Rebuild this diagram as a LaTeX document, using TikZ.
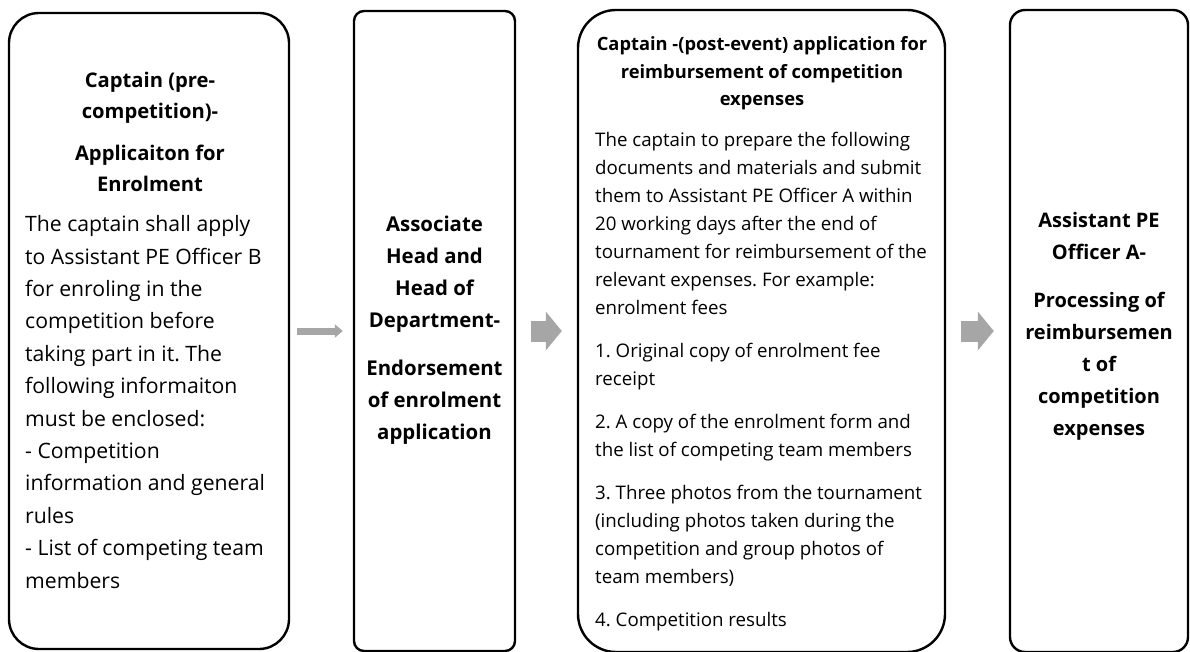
\documentclass[tikz,border=0pt]{standalone}
\usepackage{fontspec}
\setmainfont{Open Sans}
\usetikzlibrary{positioning,arrows.meta}
\definecolor{arrowgrey}{RGB}{166,166,166}
\frenchspacing

\begin{document}
\begin{tikzpicture}[x=1pt,y=-1pt,
    stage/.style={draw=black,line width=2.4pt,inner sep=0pt},
    head/.style={align=center,inner sep=0pt},
    body/.style={align=left,inner sep=0pt,anchor=west},
    flow/.style={draw=arrowgrey,line width=21pt,-{Triangle[width=38pt,length=16pt]}},
    thinflow/.style={draw=arrowgrey,line width=7pt,-{Triangle[width=13pt,length=8pt]}}]
\useasboundingbox (0,0) rectangle (1190,652);

% the four stages
\node[stage,rounded corners=30pt,minimum width=280pt,minimum height=636pt] (pre) at (149,331) {};
\node[stage,rounded corners=10pt,minimum width=161pt,minimum height=640pt] (endorse) at (434.5,331) {};
\node[stage,rounded corners=38pt,minimum width=367pt,minimum height=642pt] (post) at (761.5,331) {};
\node[stage,rounded corners=15pt,minimum width=178pt,minimum height=642pt] (process) at (1099,331) {};

% captain, before the competition
\node[head,font={\bfseries\fontsize{20.2}{31}\selectfont}] (preTitle) at (150,132)
    {Captain (pre-\\competition)-\\[11pt]Applicaiton for\\Enrolment};
\node[body,font={\fontsize{21.2}{32.4}\selectfont}] (preText) at (25,402)
    {The captain shall apply\\to Assistant PE Officer B\\for enroling in the\\competition before\\taking part in it. The\\following informaiton\\must be enclosed:\\- Competition\\information and general\\rules\\- List of competing team\\members};

% heads
\node[head,font={\bfseries\fontsize{20.4}{32}\selectfont}] (endorseTitle) at (434.5,330)
    {Associate\\Head and\\Head of\\Department-\\[16pt]Endorsement\\of enrolment\\application};

% captain, after the event
\node[head,font={\bfseries\fontsize{18.3}{27.5}\selectfont}] (postTitle) at (762,73.5)
    {Captain -(post-event) application for\\reimbursement of competition\\expenses};
\node[body,font={\fontsize{18.7}{28}\selectfont}] (postText) at (595,381.5)
    {The captain to prepare the following\\documents and materials and submit\\them to Assistant PE Officer A within\\20 working days after the end of\\tournament for reimbursement of the\\relevant expenses. For example:\\enrolment fees\\[15pt]1. Original copy of enrolment fee\\receipt\\[15pt]2. A copy of the enrolment form and\\the list of competing team members\\[15pt]3. Three photos from the tournament\\(including photos taken during the\\competition and group photos of\\team members)\\[15pt]4. Competition results};

% officer A
\node[head,font={\bfseries\fontsize{20}{32}\selectfont}] (processTitle) at (1099,326)
    {Assistant PE\\Officer A-\\[16pt]Processing of\\reimbursemen\\t of\\competition\\expenses};

\draw[thinflow] ([xshift=7pt]pre.east) -- ([xshift=-10pt]endorse.west);
\draw[flow] ([xshift=15pt]endorse.east) -- ([xshift=-15pt]post.west);
\draw[flow] ([xshift=15pt]post.east) -- ([xshift=-15pt]process.west);

\end{tikzpicture}
\end{document}
